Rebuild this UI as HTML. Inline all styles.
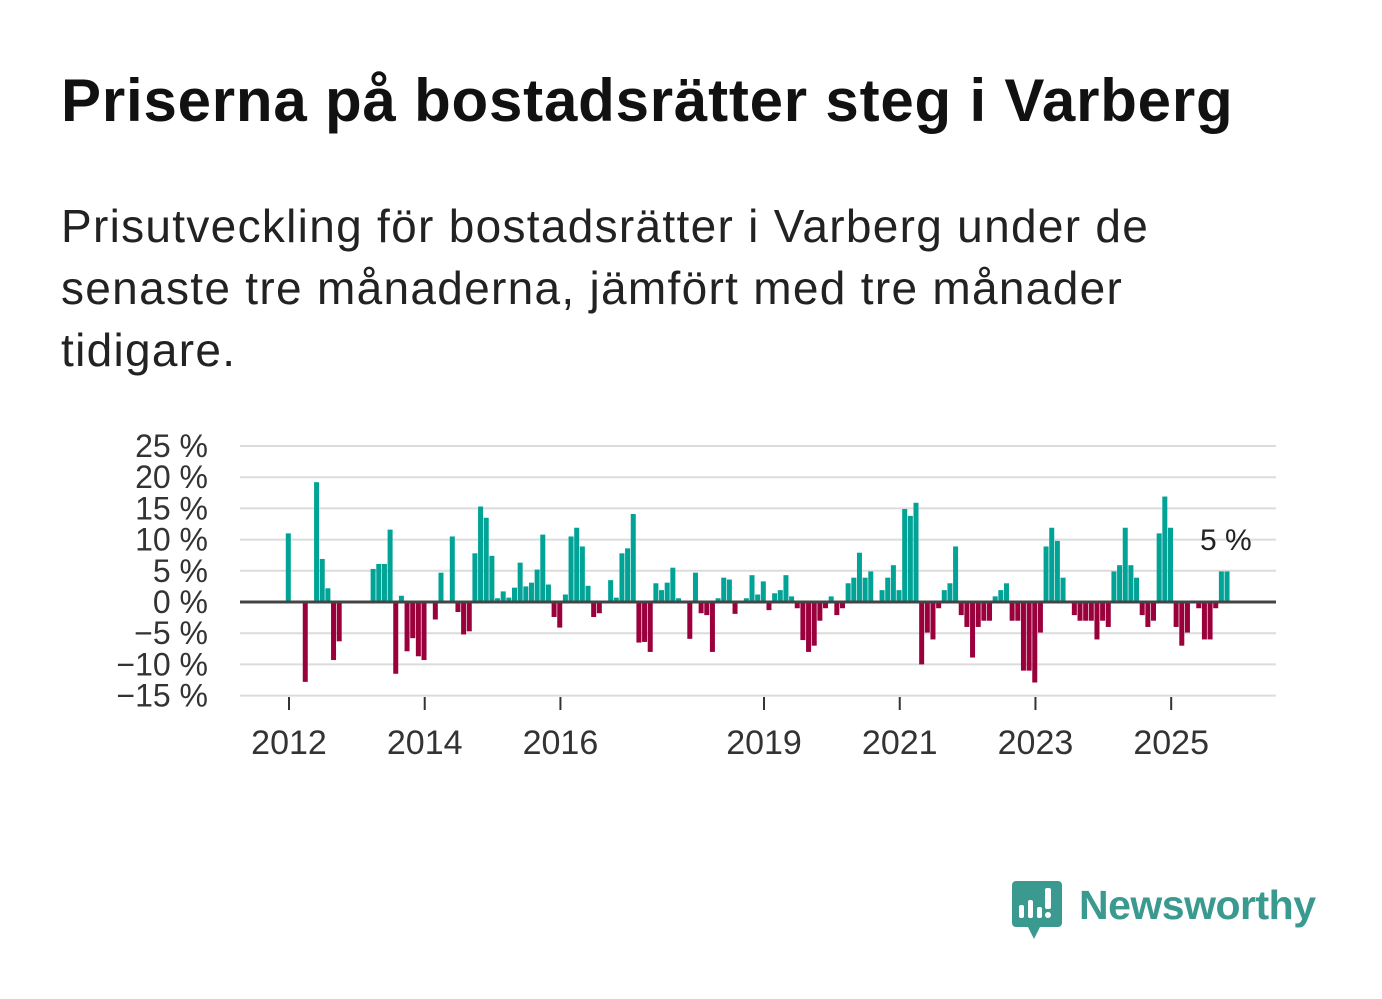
<!DOCTYPE html>
<html><head><meta charset="utf-8">
<style>
body{margin:0;width:1382px;height:999px;background:#fff;overflow:hidden;font-family:"Liberation Sans","DejaVu Sans",sans-serif;}
#title{position:absolute;left:61px;top:66px;font-size:60px;font-weight:bold;color:#111;margin:0;white-space:nowrap;letter-spacing:0.8px;}
#sub{position:absolute;left:61px;top:195px;font-size:46px;line-height:62px;color:#222;width:1150px;margin:0;letter-spacing:1.3px;}
svg{position:absolute;left:0;top:0;}
</style></head><body>
<h1 id="title">Priserna på bostadsrätter steg i Varberg</h1>
<p id="sub">Prisutveckling för bostadsrätter i Varberg under de senaste tre månaderna, jämfört med tre månader tidigare.</p>
<svg id="chart" width="1382" height="999">
<g id="grid"></g><g id="bars"></g><g id="axes"></g>
<text x="1200" y="550" font-size="30" fill="#222">5 %</text>
<g>
<path d="M1016 881 h42 a4 4 0 0 1 4 4 v38 a4 4 0 0 1 -4 4 h-18 l-6 12 l-6 -12 h-12 a4 4 0 0 1 -4 -4 v-38 a4 4 0 0 1 4 -4z" fill="#3a9a90"/>
<rect x="1019" y="905" width="5" height="13" rx="2" fill="#fff"/>
<rect x="1028" y="900" width="5" height="18" rx="2" fill="#fff"/>
<rect x="1037" y="907" width="5" height="11" rx="2" fill="#fff"/>
<rect x="1045" y="888" width="6" height="21" rx="2" fill="#fff"/>
<circle cx="1048" cy="915" r="3" fill="#fff"/>
<text x="1079" y="919" font-size="41" font-weight="bold" fill="#3a9a90" textLength="237">Newsworthy</text>
</g>
</svg>
<script>
const startYear = 2012;
const values = [11,null,null,-12.8,null,19.2,6.9,2.2,-9.3,-6.3,null,null,null,null,null,5.3,6.1,6.1,11.6,-11.5,1.0,-7.9,-5.8,-8.7,-9.3,null,-2.8,4.7,null,10.5,-1.6,-5.2,-4.7,7.8,15.3,13.5,7.4,0.6,1.7,0.7,2.3,6.3,2.5,3.1,5.2,10.8,2.8,-2.4,-4.1,1.2,10.5,11.9,8.9,2.6,-2.4,-1.8,null,3.5,0.7,7.8,8.6,14.1,-6.5,-6.4,-8.0,3.0,1.9,3.1,5.5,0.6,null,-5.9,4.7,-1.8,-2.1,-8.0,0.6,3.9,3.6,-1.9,null,0.6,4.3,1.2,3.3,-1.3,1.4,1.9,4.3,0.9,-1.0,-6.1,-8.0,-7.0,-3.0,-1.0,0.9,-2.1,-1.0,3.0,3.9,7.9,3.9,4.9,null,1.9,3.9,5.9,1.9,14.9,13.8,15.9,-10.0,-4.9,-6.0,-1.0,1.9,3.0,8.9,-2.1,-4.0,-8.9,-4.0,-3.0,-3.0,0.9,1.9,3.0,-3.0,-3.0,-11.0,-11.0,-12.9,-4.9,8.9,11.9,9.8,3.9,null,-2.1,-3.0,-3.0,-3.0,-6.0,-3.0,-4.0,4.9,5.9,11.9,5.9,3.9,-2.1,-4.0,-3.0,11.0,16.9,11.9,-4.0,-7.0,-4.9,null,-1.0,-6.0,-6.0,-1.0,4.9,4.9];
const yTicks = [25,20,15,10,5,0,-5,-10,-15];
const yTickLabels = ["25 %","20 %","15 %","10 %","5 %","0 %","\u22125 %","\u221210 %","\u221215 %"];
const xTickYears = [2012,2014,2016,2019,2021,2023,2025];
const svgNS='http://www.w3.org/2000/svg';
const y0=602, pxPer=6.24;
function yS(v){return y0 - v*pxPer;}
const m0x=288.3, monthW=5.655;
function xS(m){return m0x + m*monthW;}
function xYear(yr){return 289 + (yr-startYear)*12*monthW;}
function mk(tag,attrs,parent){const e=document.createElementNS(svgNS,tag);for(const k in attrs)e.setAttribute(k,attrs[k]);parent.appendChild(e);return e;}
const grid=document.getElementById('grid'),bars=document.getElementById('bars'),axes=document.getElementById('axes');
yTicks.forEach((t,i)=>{
  if(t!==0){const l=mk('line',{x1:240,x2:1276,y1:yS(t),y2:yS(t),stroke:'#dcdcdc','stroke-width':2},grid);
  
  }
  const tx=mk('text',{x:208,y:yS(t)+11,'text-anchor':'end','font-size':32,fill:'#333'},axes);
  tx.textContent=yTickLabels[i];
  
  
});
values.forEach((v,i)=>{
  if(v===null)return;
  const y=v>=0?yS(v):y0, h=Math.abs(v)*pxPer;
  const r=mk('rect',{x:xS(i)-2.5,y:y,width:5,height:h,fill:v>=0?'#00a396':'#9a003c'},bars);
  
  
});
const zl=mk('line',{x1:240,x2:1276,y1:y0,y2:y0,stroke:'#444','stroke-width':3},axes);


xTickYears.forEach(yr=>{
  const x=xYear(yr);
  const t=mk('line',{x1:x,x2:x,y1:697,y2:710,stroke:'#333','stroke-width':2},axes);
  
  
  const tx=mk('text',{x:x,y:754,'text-anchor':'middle','font-size':34,fill:'#333'},axes);
  tx.textContent=yr;
  
  
});
</script>
</body></html>
